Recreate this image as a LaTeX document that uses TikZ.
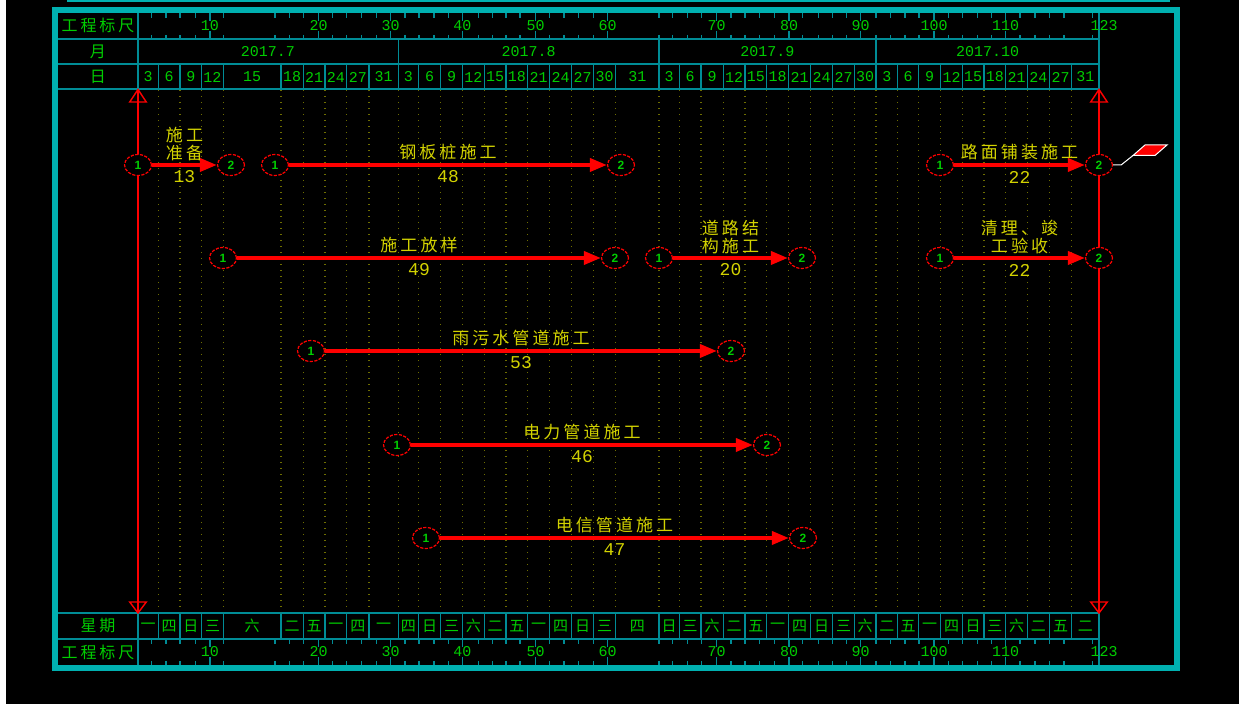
\documentclass[tikz,border=0pt]{standalone}
\usepackage{fontspec}
\setmainfont{Liberation Mono}
\newfontfamily\cjk{Noto Sans CJK SC}
\newfontfamily\cjkwide[LetterSpace=18]{Noto Sans CJK SC}
\newfontfamily\numfont{Liberation Sans}
\definecolor{framecyan}{RGB}{0,176,176}
\definecolor{gridteal}{RGB}{0,140,150}
\definecolor{scalegreen}{RGB}{0,205,0}
\definecolor{dotolive}{RGB}{110,110,0}
\definecolor{taskyellow}{RGB}{210,210,0}
\definecolor{netred}{RGB}{255,0,0}
\usetikzlibrary{shapes.geometric, arrows.meta, positioning, calc}

\begin{document}
\begin{tikzpicture}[x=0.5pt, y=-0.5pt,
        grid/.style={draw=gridteal, line width=0.7pt},
        headtxt/.style={text=scalegreen, inner sep=0pt, font=\cjkwide\fontsize{8}{8}\selectfont},
        numtxt/.style={text=scalegreen, inner sep=0pt, font=\fontsize{7.5}{8}\selectfont},
        weektxt/.style={text=scalegreen, inner sep=0pt, font=\cjk\fontsize{7.5}{8}\selectfont},
        evt/.style={ellipse, draw=netred, dash pattern=on 1.6pt off 0.7pt, line width=0.6pt, fill=black, minimum width=13.5pt, minimum height=10.5pt, inner sep=0pt, text=scalegreen, font=\numfont\bfseries\fontsize{6}{6}\selectfont},
        task/.style={draw=netred, line width=1.8pt, -{Triangle[length=8.5pt, width=6.5pt]}},
        taskname/.style={text=taskyellow, inner sep=0pt, align=center, font=\cjkwide\fontsize{8.5}{9}\selectfont},
        taskdur/.style={text=taskyellow, inner sep=0pt, font=\fontsize{9}{9}\selectfont},
        timeline/.style={draw=netred, line width=0.7pt}]
        \useasboundingbox (0,0) rectangle (1239,704);
        \fill[black] (0,0) rectangle (1239,704);
        \fill[white] (0,0) rectangle (6,704);
        \draw[framecyan, line width=1pt] (67,1) -- (1170,1);

        \foreach \y in {39,64,89,613,639}
            \draw[grid] (58,\y) -- (1099,\y);
        \foreach \x in {138,1099} {
            \draw[grid] (\x,13) -- (\x,89);
            \draw[grid] (\x,613) -- (\x,665);
        }
        \foreach \x in {398.3,659,876}
            \draw[grid] (\x,39) -- (\x,64);

        \foreach \t in {151.7,166,180,195.7,223.3,275,289.3,303.3,332.7,346.7,361.7,376.7,405,419,434,448.3,478.3,492.3,506,520,549.3,564,578.3,593.3,659,672.7,687.3,701.7,731,745,759.3,774.3,802.7,818.3,832.3,846.7,876,890.7,905,919,948.3,962.3,977.3,991.7,1020,1035,1049.3,1064,1092.7} {
            \draw[grid] (\t,13) -- (\t,18);
            \draw[grid] (\t,35) -- (\t,39);
            \draw[grid] (\t,639) -- (\t,644);
            \draw[grid] (\t,661) -- (\t,665);
        }
        \foreach \t/\n in {210/10,318.7/20,390.7/30,462.3/40,535.7/50,607.7/60,716.7/70,789/80,860.7/90,934/100,1005.7/110} {
            \draw[grid] (\t,13) -- (\t,21);
            \draw[grid] (\t,31) -- (\t,39);
            \draw[grid] (\t,639) -- (\t,647);
            \draw[grid] (\t,657) -- (\t,665);
            \node[numtxt] (rtop\n) at (\t,26) {\n};
            \node[numtxt] (rbot\n) at (\t,652) {\n};
        }
        \node[numtxt] (rtopend) at (1104,26) {123};
        \node[numtxt] (rbotend) at (1104,652) {123};

        \foreach \xa/\xb/\d/\w [count=\i] in {138/158.3/3/一, 158.3/180/6/四, 180/201.7/9/日, 201.7/223.3/12/三, 223.3/281/15/六, 281/303.3/18/二, 303.3/325/21/五, 325/346.7/24/一, 346.7/369/27/四, 369/398.3/31/一, 398.3/418.3/3/四, 418.3/440.7/6/日, 440.7/462.3/9/三, 462.3/484.3/12/六, 484.3/506/15/二, 506/527.7/18/五, 527.7/549.3/21/一, 549.3/571.7/24/四, 571.7/593.3/27/日, 593.3/615.7/30/三, 615.7/659/31/四, 659/679.3/3/日, 679.3/701/6/三, 701/723.3/9/六, 723.3/745/12/二, 745/766.7/15/五, 766.7/788.3/18/一, 788.3/810.7/21/四, 810.7/832.7/24/日, 832.7/854.3/27/三, 854.3/876/30/六, 876/897.7/3/二, 897.7/918.3/6/五, 918.3/940.7/9/一, 940.7/962.3/12/四, 962.3/984/15/日, 984/1005.7/18/三, 1005.7/1027.3/21/六, 1027.3/1049.3/24/二, 1049.3/1071.7/27/五, 1071.7/1099/31/二} {
            \draw[grid] (\xb,64) -- (\xb,89);
            \draw[grid] (\xb,613) -- (\xb,639);
            \draw[dotolive, line width=0.7pt, dash pattern=on 0.7pt off 2.3pt] (\xb,90) -- (\xb,612);
            \node[numtxt] (day\i) at ({(\xa+\xb)/2},77) {\d};
            \node[weektxt] (wk\i) at ({(\xa+\xb)/2},626) {\w};
        }

        \node[headtxt] (scaletop) at (98,25.5) {工程标尺};
        \node[headtxt] (monthhead) at (98,51.5) {月};
        \node[headtxt] (dayhead) at (98,77) {日};
        \node[headtxt] (weekhead) at (98,626) {星期};
        \node[headtxt] (scalebot) at (98,652) {工程标尺};
        \node[numtxt] (jul) at (268,51.5) {2017.7};
        \node[numtxt] (aug) at (528.7,51.5) {2017.8};
        \node[numtxt] (sep) at (767.5,51.5) {2017.9};
        \node[numtxt] (oct) at (987.5,51.5) {2017.10};

        \draw[framecyan, line width=3pt] (55,10) rectangle (1177,668);

        \foreach \x [count=\i] in {138,1099} {
            \coordinate (up\i) at (\x,89.5);
            \coordinate (dn\i) at (\x,613);
            \draw[timeline] (up\i) -- (dn\i);
            \draw[timeline] (up\i) -- ++(8.3,12.5) -- ++(-16.6,0) -- cycle;
            \draw[timeline] (dn\i) -- ++(8.3,-11) -- ++(-16.6,0) -- cycle;
        }

        \node[evt] (prep1) at (138,165) {1};
        \node[evt] (prep2) at (231,165) {2};
        \node[evt] (pile1) at (275,165) {1};
        \node[evt] (pile2) at (621,165) {2};
        \node[evt] (pave1) at (940,165) {1};
        \node[evt] (pave2) at (1099,165) {2};
        \node[evt] (layout1) at (223,258) {1};
        \node[evt] (layout2) at (615,258) {2};
        \node[evt] (road1) at (659,258) {1};
        \node[evt] (road2) at (802,258) {2};
        \node[evt] (clean1) at (940,258) {1};
        \node[evt] (clean2) at (1099,258) {2};
        \node[evt] (sewer1) at (311,351) {1};
        \node[evt] (sewer2) at (731,351) {2};
        \node[evt] (power1) at (397,445) {1};
        \node[evt] (power2) at (767,445) {2};
        \node[evt] (tele1) at (426,538) {1};
        \node[evt] (tele2) at (803,538) {2};

        \draw[task] (prep1) -- (prep2);
        \draw[task] (pile1) -- (pile2);
        \draw[task] (pave1) -- (pave2);
        \draw[task] (layout1) -- (layout2);
        \draw[task] (road1) -- (road2);
        \draw[task] (clean1) -- (clean2);
        \draw[task] (sewer1) -- (sewer2);
        \draw[task] (power1) -- (power2);
        \draw[task] (tele1) -- (tele2);

        \node[taskname] (prepname) at ($(prep1)!.5!(prep2)+(0,-21)$) {施工\\准备};
        \node[taskdur] (prepdur) at ($(prep1)!.5!(prep2)+(0,12)$) {13};
        \node[taskname] (pilename) at ($(pile1)!.5!(pile2)+(0,-13)$) {钢板桩施工};
        \node[taskdur] (piledur) at ($(pile1)!.5!(pile2)+(0,12)$) {48};
        \node[taskname] (pavename) at ($(pave1)!.5!(pave2)+(0,-13)$) {路面铺装施工};
        \node[taskdur] (pavedur) at ($(pave1)!.5!(pave2)+(0,12)$) {22};
        \node[taskname] (layoutname) at ($(layout1)!.5!(layout2)+(0,-13)$) {施工放样};
        \node[taskdur] (layoutdur) at ($(layout1)!.5!(layout2)+(0,12)$) {49};
        \node[taskname] (roadname) at ($(road1)!.5!(road2)+(0,-21)$) {道路结\\构施工};
        \node[taskdur] (roaddur) at ($(road1)!.5!(road2)+(0,12)$) {20};
        \node[taskname] (cleanname) at ($(clean1)!.5!(clean2)+(0,-21)$) {清理、竣\\工验收};
        \node[taskdur] (cleandur) at ($(clean1)!.5!(clean2)+(0,12)$) {22};
        \node[taskname] (sewername) at ($(sewer1)!.5!(sewer2)+(0,-13)$) {雨污水管道施工};
        \node[taskdur] (sewerdur) at ($(sewer1)!.5!(sewer2)+(0,12)$) {53};
        \node[taskname] (powername) at ($(power1)!.5!(power2)+(0,-13)$) {电力管道施工};
        \node[taskdur] (powerdur) at ($(power1)!.5!(power2)+(0,12)$) {46};
        \node[taskname] (telename) at ($(tele1)!.5!(tele2)+(0,-13)$) {电信管道施工};
        \node[taskdur] (teledur) at ($(tele1)!.5!(tele2)+(0,12)$) {47};

        \coordinate (flagfoot) at (1133,155.5);
        \draw[white, line width=0.5pt] (pave2.east) -- ++(8,0) -- (flagfoot);
        \draw[white, fill=netred, line width=0.5pt] (flagfoot) -- (1145,145) -- (1167,145) -- (1155,155.5) -- cycle;
    \end{tikzpicture}
\end{document}
